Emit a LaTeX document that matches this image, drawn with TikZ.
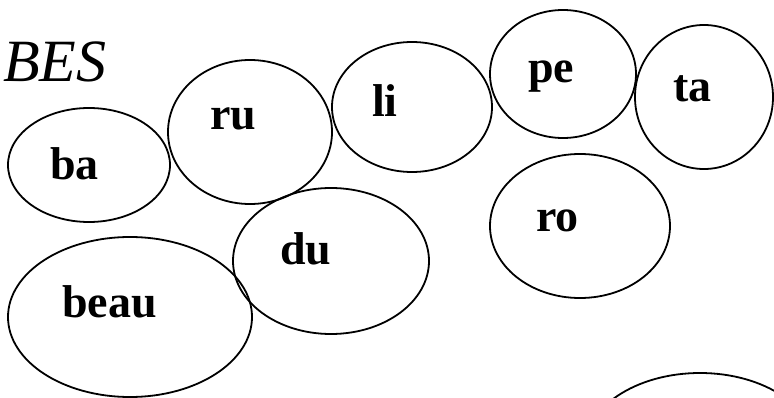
\documentclass[tikz,border=0pt]{standalone}
\usepackage{fontspec}
\setmainfont{Liberation Serif}
\usepackage{tikz}
\usetikzlibrary{shapes.geometric}
\tikzset{syl/.style={draw,ellipse,inner sep=0pt,line width=1.8pt}}
\tikzset{word/.style={inner sep=0pt,anchor=base west,font=\bfseries\fontsize{46}{50}\selectfont}}

\begin{document}
\begin{tikzpicture}[x=1pt,y=-1pt]
    \useasboundingbox (0,0) rectangle (774,398);
    \clip (0,0) rectangle (774,398);
    \node[inner sep=0pt,anchor=base west,font=\itshape\fontsize{60}{64}\selectfont] (title) at (3,82) {BES};
    % ellipses
    \node[syl,minimum width=162pt,minimum height=114pt] (ba)   at (89,165)  {};
    \node[syl,minimum width=164pt,minimum height=144pt] (ru)   at (250,132) {};
    \node[syl,minimum width=160pt,minimum height=130pt] (li)   at (412,107) {};
    \node[syl,minimum width=146pt,minimum height=128pt] (pe)   at (563,74)  {};
    \node[syl,minimum width=138pt,minimum height=144pt] (ta)   at (704,97)  {};
    \node[syl,minimum width=180pt,minimum height=144pt] (ro)   at (580,226) {};
    \node[syl,minimum width=196pt,minimum height=146pt] (du)   at (331,261) {};
    \node[syl,minimum width=244pt,minimum height=160pt] (beau) at (130,317) {};
    \node[syl,minimum width=232pt,minimum height=154pt] (bot)  at (700,450) {};
    % syllables
    \node[word] (ba-t)   at (50,180)  {ba};
    \node[word] (ru-t)   at (210,130) {ru};
    \node[word] (li-t)   at (372,117) {li};
    \node[word] (pe-t)   at (528,83)  {pe};
    \node[word] (ta-t)   at (673,102) {ta};
    \node[word] (ro-t)   at (536,232) {ro};
    \node[word] (du-t)   at (280,265) {du};
    \node[word] (beau-t) at (62,317)  {beau};
\end{tikzpicture}
\end{document}
